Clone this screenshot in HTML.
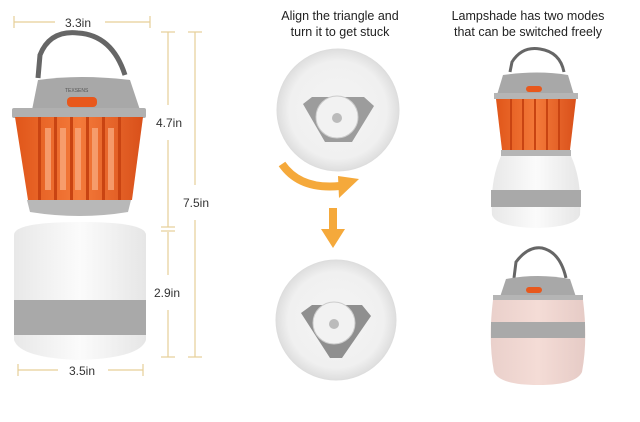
<!DOCTYPE html>
<html><head><style>
body{margin:0;width:640px;height:417px;background:#fff;overflow:hidden;font-family:"Liberation Sans",sans-serif}
</style></head><body>
<svg width="640" height="417" xmlns="http://www.w3.org/2000/svg">
<defs>
<linearGradient id="og" x1="0" x2="1"><stop offset="0" stop-color="#e0561a"/><stop offset="0.5" stop-color="#f47a3a"/><stop offset="1" stop-color="#d9501a"/></linearGradient>
<linearGradient id="wg" x1="0" x2="1"><stop offset="0" stop-color="#e8e8e8"/><stop offset="0.5" stop-color="#fbfbfb"/><stop offset="1" stop-color="#e6e6e6"/></linearGradient>
<linearGradient id="pg" x1="0" x2="1"><stop offset="0" stop-color="#ead0cb"/><stop offset="0.5" stop-color="#f4dcd6"/><stop offset="1" stop-color="#e6cbc6"/></linearGradient>
<radialGradient id="cg"><stop offset="0" stop-color="#f4f4f4"/><stop offset="0.8" stop-color="#f0f0f0"/><stop offset="1" stop-color="#dedede"/></radialGradient>
</defs>
<g stroke="#e6cf98" stroke-width="1.2" fill="none">
<line x1="14" y1="22" x2="55" y2="22"/><line x1="105" y1="22" x2="150" y2="22"/>
<line x1="14" y1="16" x2="14" y2="28"/><line x1="150" y1="16" x2="150" y2="28"/>
<line x1="168" y1="32" x2="168" y2="105"/><line x1="168" y1="140" x2="168" y2="227"/>
<line x1="168" y1="232" x2="168" y2="275"/><line x1="168" y1="310" x2="168" y2="357"/>
<line x1="161" y1="32" x2="175" y2="32"/><line x1="161" y1="227" x2="175" y2="227"/><line x1="161" y1="231" x2="175" y2="231"/><line x1="161" y1="357" x2="175" y2="357"/>
<line x1="195" y1="32" x2="195" y2="185"/><line x1="195" y1="220" x2="195" y2="357"/>
<line x1="188" y1="32" x2="202" y2="32"/><line x1="188" y1="357" x2="202" y2="357"/>
<line x1="18" y1="370" x2="58" y2="370"/><line x1="108" y1="370" x2="143" y2="370"/>
<line x1="18" y1="364" x2="18" y2="376"/><line x1="143" y1="364" x2="143" y2="376"/>
</g>
<g font-size="12" fill="#333">
<text x="65" y="27">3.3in</text><text x="156" y="127">4.7in</text><text x="183" y="207">7.5in</text>
<text x="154" y="297">2.9in</text><text x="69" y="375">3.5in</text>
</g>
<!-- left lantern -->
<path d="M38 78 L40 55 Q50 30 78 33 Q112 35 125 75" stroke="#666" stroke-width="5" fill="none"/>
<path d="M32 110 L38 80 Q80 74 130 80 L140 110 Z" fill="#a8a8a8"/>
<text x="65" y="92" font-size="5" fill="#555">TEXSENS</text>
<rect x="67" y="97" width="30" height="10" rx="4" fill="#e8581c"/>
<rect x="12" y="108" width="134" height="10" rx="2" fill="#b0b0b0"/>
<path d="M15 117 L143 117 L132 200 L28 200 Z" fill="url(#og)"/>
<g fill="#f9a77a" opacity="0.8"><rect x="45" y="128" width="6" height="62"/><rect x="60" y="128" width="6" height="62"/><rect x="75" y="128" width="6" height="62"/><rect x="92" y="128" width="6" height="62"/><rect x="108" y="128" width="6" height="62"/></g>
<g fill="#c94412"><rect x="38" y="117" width="3" height="83"/><rect x="54" y="117" width="3" height="83"/><rect x="70" y="117" width="3" height="83"/><rect x="86" y="117" width="3" height="83"/><rect x="102" y="117" width="3" height="83"/><rect x="118" y="117" width="3" height="83"/></g>
<path d="M27 200 L131 200 L128 212 Q80 220 30 212 Z" fill="#b8b8b8"/>
<path d="M14 235 Q14 222 80 222 Q146 222 146 235 L146 340 Q140 358 80 360 Q20 358 14 340 Z" fill="url(#wg)"/>
<rect x="14" y="300" width="132" height="35" fill="#a9a9a9"/>
<!-- text middle/right -->
<g font-size="12.5" fill="#222" text-anchor="middle">
<text x="340" y="20">Align the triangle and</text><text x="340" y="36">turn it to get stuck</text>
<text x="528" y="20">Lampshade has two modes</text><text x="528" y="36">that can be switched freely</text>
</g>
<!-- circles -->
<circle cx="338" cy="110" r="61" fill="url(#cg)" stroke="#ddd"/>
<path d="M303 104 L312 97 L364 97 L374 106 L352 142 L325 142 Z" fill="#9c9c9c"/>
<circle cx="337" cy="117" r="21" fill="#f2f2f2" stroke="#ccc"/>
<circle cx="337" cy="118" r="5" fill="#bbb"/>
<circle cx="336" cy="320" r="60" fill="url(#cg)" stroke="#ddd"/>
<path d="M301 313 L312 305 L362 305 L371 316 L342 358 L330 358 Z" fill="#8f8f8f"/>
<circle cx="334" cy="323" r="21" fill="#f2f2f2" stroke="#ccc"/>
<circle cx="334" cy="324" r="5" fill="#bbb"/>
<!-- arrows -->
<path d="M282 164 Q300 190 340 186" stroke="#f5a93b" stroke-width="8" fill="none"/>
<path d="M338 176 L359 179 L339 198 Z" fill="#f5a93b"/>
<rect x="329" y="208" width="8" height="22" fill="#f5a93b"/>
<path d="M321 229 L345 229 L333 248 Z" fill="#f5a93b"/>
<!-- right top lantern -->
<path d="M510 72 L512 62 Q522 46 540 49 Q560 52 564 72" stroke="#666" stroke-width="3" fill="none"/>
<path d="M497 95 L503 75 Q538 70 568 75 L574 95 Z" fill="#a8a8a8"/>
<rect x="526" y="86" width="16" height="6" rx="3" fill="#e8581c"/>
<rect x="494" y="93" width="84" height="6" fill="#b5b5b5"/>
<path d="M496 99 L576 99 L570 150 L502 150 Z" fill="url(#og)"/>
<g fill="#c94412"><rect x="510" y="99" width="2" height="51"/><rect x="522" y="99" width="2" height="51"/><rect x="534" y="99" width="2" height="51"/><rect x="546" y="99" width="2" height="51"/><rect x="558" y="99" width="2" height="51"/></g>
<rect x="501" y="150" width="70" height="6" fill="#b5b5b5"/>
<path d="M501 156 L571 156 Q582 180 580 215 Q576 227 536 228 Q496 227 492 215 Q490 180 501 156 Z" fill="url(#wg)"/>
<rect x="491" y="190" width="90" height="17" fill="#a9a9a9"/>
<!-- right bottom lantern -->
<path d="M514 278 L516 262 Q528 246 542 248 Q560 252 566 278" stroke="#666" stroke-width="3" fill="none"/>
<path d="M500 297 L506 279 Q538 273 570 279 L576 297 Z" fill="#a8a8a8"/>
<rect x="526" y="287" width="16" height="6" rx="3" fill="#e8581c"/>
<rect x="493" y="295" width="90" height="5" fill="#b5b5b5"/>
<path d="M493 300 L583 300 Q588 340 582 372 Q576 385 538 385 Q500 385 494 372 Q488 340 493 300 Z" fill="url(#pg)"/>
<rect x="491" y="322" width="94" height="16" fill="#a9a9a9"/>
</svg>
</body></html>
